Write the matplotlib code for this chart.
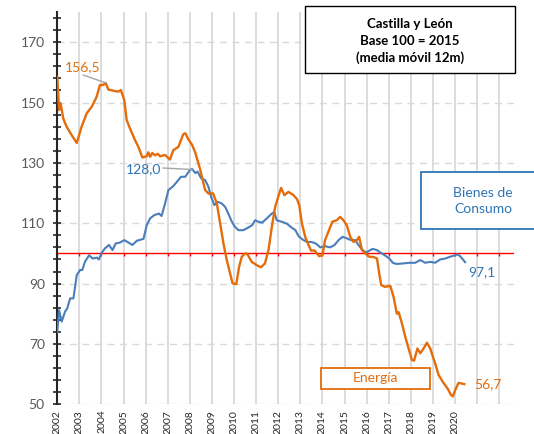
import matplotlib
matplotlib.use("Agg")
import matplotlib.pyplot as plt
from matplotlib.patches import Rectangle

plt.rcParams['font.family'] = ['Lato', 'DejaVu Sans']

# Energía (media móvil 12m, base 2015=100)
energia_t = [2002.00, 2002.08, 2002.15, 2002.27, 2002.42, 2002.65, 2002.88, 2003.10, 2003.33, 2003.56,
             2003.78, 2003.93, 2004.08, 2004.19, 2004.31, 2004.54, 2004.76, 2004.88, 2005.03, 2005.14,
             2005.29, 2005.52, 2005.67, 2005.85, 2006.05, 2006.12, 2006.20, 2006.30, 2006.42, 2006.55,
             2006.65, 2006.88, 2007.10, 2007.25, 2007.48, 2007.70, 2007.80, 2007.93, 2008.10, 2008.24,
             2008.46, 2008.69, 2008.85, 2009.05, 2009.22, 2009.37, 2009.52, 2009.67, 2009.82, 2009.93,
             2010.10, 2010.23, 2010.35, 2010.50, 2010.60, 2010.80, 2011.03, 2011.22, 2011.40, 2011.56,
             2011.71, 2011.86, 2012.00, 2012.13, 2012.28, 2012.46, 2012.69, 2012.85, 2012.95, 2013.07,
             2013.22, 2013.37, 2013.49, 2013.64, 2013.85, 2014.00, 2014.12, 2014.27, 2014.45, 2014.65,
             2014.80, 2014.95, 2015.10, 2015.26, 2015.41, 2015.56, 2015.66, 2015.79, 2015.94, 2016.12,
             2016.32, 2016.47, 2016.57, 2016.66, 2016.84, 2017.07, 2017.22, 2017.37, 2017.45, 2017.60,
             2017.75, 2017.90, 2018.05, 2018.15, 2018.30, 2018.43, 2018.58, 2018.73, 2018.88, 2019.00,
             2019.10, 2019.26, 2019.48, 2019.66, 2019.82, 2019.90, 2020.01, 2020.16, 2020.30, 2020.42]
energia_v = [158.5, 147.5, 149.7, 144.7, 142.0, 139.2, 136.6, 142.0, 146.4, 148.6,
             151.9, 155.8, 155.8, 156.5, 154.3, 153.9, 153.6, 154.1, 150.8, 144.2,
             141.4, 137.5, 135.3, 131.8, 132.2, 133.5, 132.0, 133.3, 132.5, 133.0,
             132.2, 132.6, 131.1, 134.2, 135.3, 139.5, 139.8, 137.8, 136.0, 133.5,
             128.0, 121.0, 119.8, 119.9, 116.6, 110.0, 103.3, 97.8, 93.4, 90.1,
             89.8, 95.6, 98.9, 100.0, 99.8, 97.2, 96.1, 95.4, 96.7, 101.1,
             108.8, 115.4, 118.8, 121.7, 119.3, 120.4, 119.3, 118.0, 116.0, 110.0,
             105.5, 102.8, 100.9, 101.0, 99.1, 99.4, 104.4, 107.2, 110.5, 111.0,
             112.1, 111.0, 109.4, 105.5, 103.8, 104.4, 105.5, 101.1, 100.0, 98.9,
             98.8, 98.3, 93.4, 89.5, 88.9, 89.3, 85.6, 80.0, 80.5, 76.8,
             72.4, 68.5, 64.7, 64.5, 68.5, 66.9, 68.5, 70.4, 68.5, 65.8,
             63.6, 59.7, 57.1, 55.3, 53.1, 52.6, 54.7, 57.1, 56.9, 56.7]

# Bienes de Consumo
consumo_t = [2002.00, 2002.08, 2002.20, 2002.35, 2002.45, 2002.58, 2002.73, 2002.88, 2003.03, 2003.13,
             2003.25, 2003.44, 2003.60, 2003.80, 2003.88, 2004.01, 2004.16, 2004.34, 2004.50, 2004.64,
             2004.84, 2005.03, 2005.22, 2005.40, 2005.60, 2005.80, 2005.90, 2006.05, 2006.20, 2006.39,
             2006.60, 2006.72, 2006.88, 2007.03, 2007.25, 2007.48, 2007.60, 2007.79, 2008.00, 2008.10,
             2008.25, 2008.35, 2008.51, 2008.69, 2008.84, 2008.96, 2009.11, 2009.26, 2009.43, 2009.60,
             2009.74, 2009.90, 2010.02, 2010.20, 2010.42, 2010.65, 2010.83, 2010.95, 2011.10, 2011.27,
             2011.48, 2011.71, 2011.82, 2011.93, 2012.15, 2012.38, 2012.60, 2012.78, 2012.92, 2013.10,
             2013.30, 2013.50, 2013.70, 2013.90, 2014.12, 2014.35, 2014.55, 2014.73, 2014.91, 2015.10,
             2015.30, 2015.48, 2015.63, 2015.79, 2015.97, 2016.12, 2016.27, 2016.47, 2016.62, 2016.82,
             2017.03, 2017.20, 2017.37, 2017.67, 2017.97, 2018.20, 2018.43, 2018.65, 2018.88, 2019.10,
             2019.33, 2019.55, 2019.78, 2020.01, 2020.10, 2020.23, 2020.36, 2020.46]
consumo_v = [74.0, 81.2, 77.4, 80.7, 81.8, 85.1, 85.1, 92.8, 94.5, 94.5,
             97.2, 99.4, 98.3, 98.6, 98.0, 100.2, 101.7, 102.8, 101.1, 103.3,
             103.6, 104.4, 103.6, 102.8, 104.2, 104.6, 104.8, 109.4, 111.6, 112.7,
             113.2, 112.4, 116.6, 121.0, 122.3, 124.3, 125.4, 125.4, 127.6, 128.0,
             126.6, 127.1, 124.9, 124.3, 122.1, 118.8, 116.0, 117.1, 116.6, 115.4,
             113.2, 110.5, 109.0, 107.7, 107.7, 108.6, 109.4, 111.0, 110.5, 110.2,
             111.6, 113.2, 113.7, 111.0, 110.5, 109.9, 108.6, 107.7, 105.7, 104.6,
             103.8, 103.8, 103.3, 102.0, 102.4, 102.0, 102.8, 104.4, 105.5, 105.0,
             104.4, 104.4, 102.8, 101.3, 100.3, 100.9, 101.5, 101.1, 100.3, 99.4,
             98.3, 96.8, 96.5, 96.7, 96.9, 96.9, 97.8, 96.9, 97.2, 96.9,
             98.0, 98.3, 98.9, 99.4, 99.7, 99.1, 98.0, 97.1]

years = list(range(2002, 2023))
year_labels = [str(y) for y in range(2002, 2021)]

naranja = '#E46C0A'
azul = '#4A7EBB'
azul_txt = '#2E75B6'

fig = plt.figure(figsize=(5.34, 4.34), dpi=100)
ax = fig.add_axes([0.1073, 0.0684, 0.8552, 0.904])

# rejilla
for y in years:
    ax.axvline(y, color='#D9D9D9', lw=1.3, zorder=0)
for v in range(50, 180, 20):
    ax.axhline(v, color='#D9D9D9', lw=1.0, ls=(0, (5, 4)), zorder=0)

# linea base 100
ax.axhline(100, color='red', lw=1.0, zorder=1)
ax.vlines(years, 99.0, 100, color='red', lw=1.0, zorder=1)

ax.plot(consumo_t, consumo_v, color=azul, lw=1.5, zorder=3)
ax.plot(energia_t, energia_v, color=naranja, lw=1.7, zorder=4)

ax.set_xlim(2002, 2022.67)
ax.set_ylim(50, 180)

for s in ['top', 'right', 'bottom']:
    ax.spines[s].set_visible(False)
ax.spines['left'].set_color('#262626')
ax.spines['left'].set_linewidth(1.5)

ax.set_yticks(range(50, 171, 20))
ax.set_yticks(range(50, 181, 4), minor=True)
ax.tick_params(axis='y', which='both', direction='inout', length=6, width=1.2,
               color='#262626', labelsize=10, labelcolor='#595959', pad=6)
ax.set_xticks(range(2002, 2021))
ax.set_xticklabels(year_labels, rotation=90, fontsize=7.5, color='#262626')
ax.tick_params(axis='x', length=0, pad=4)

# etiquetas con lineas guia
ax.plot([2003.18, 2004.19], [159.1, 156.5], color='#A6A6A6', lw=1, zorder=5)
ax.text(2003.17, 161.8, '156,5', color=naranja, fontsize=10, ha='center', va='center')
ax.plot([2006.79, 2008.1], [128.3, 127.8], color='#A6A6A6', lw=1, zorder=5)
ax.text(2005.9, 127.9, '128,0', color=azul_txt, fontsize=10, ha='center', va='center')
ax.text(2021.23, 93.9, '97,1', color=azul_txt, fontsize=10, ha='center', va='center')
ax.text(2021.5, 56.7, '56,7', color=naranja, fontsize=10, ha='center', va='center')

# cajas de texto (coordenadas de figura)
W, H = 534.0, 434.0
def caja(x0, y0, x1, y1, color, lw):
    fig.patches.append(Rectangle((x0 / W, 1 - y1 / H), (x1 - x0) / W, (y1 - y0) / H,
                                 transform=fig.transFigure, facecolor='white',
                                 edgecolor=color, lw=lw, zorder=5))

caja(305, 6, 515, 73, 'black', 1.0)
fig.text(410 / W, 1 - 41 / H, 'Castilla y León\nBase 100 = 2015\n(media móvil 12m)',
         ha='center', va='center', fontsize=9.5, fontweight='bold', linespacing=1.45,
         color='black', zorder=6)

caja(421, 172, 546, 229, '#2E75B6', 1.3)
fig.text(483 / W, 1 - 201 / H, 'Bienes de\nConsumo', ha='center', va='center',
         fontsize=10, color=azul_txt, linespacing=1.35, zorder=6)

caja(321, 368, 430, 389, naranja, 1.3)
fig.text(375.5 / W, 1 - 378.5 / H, 'Energía', ha='center', va='center',
         fontsize=10, color=naranja, zorder=6)

fig.savefig('out.png', dpi=100)
